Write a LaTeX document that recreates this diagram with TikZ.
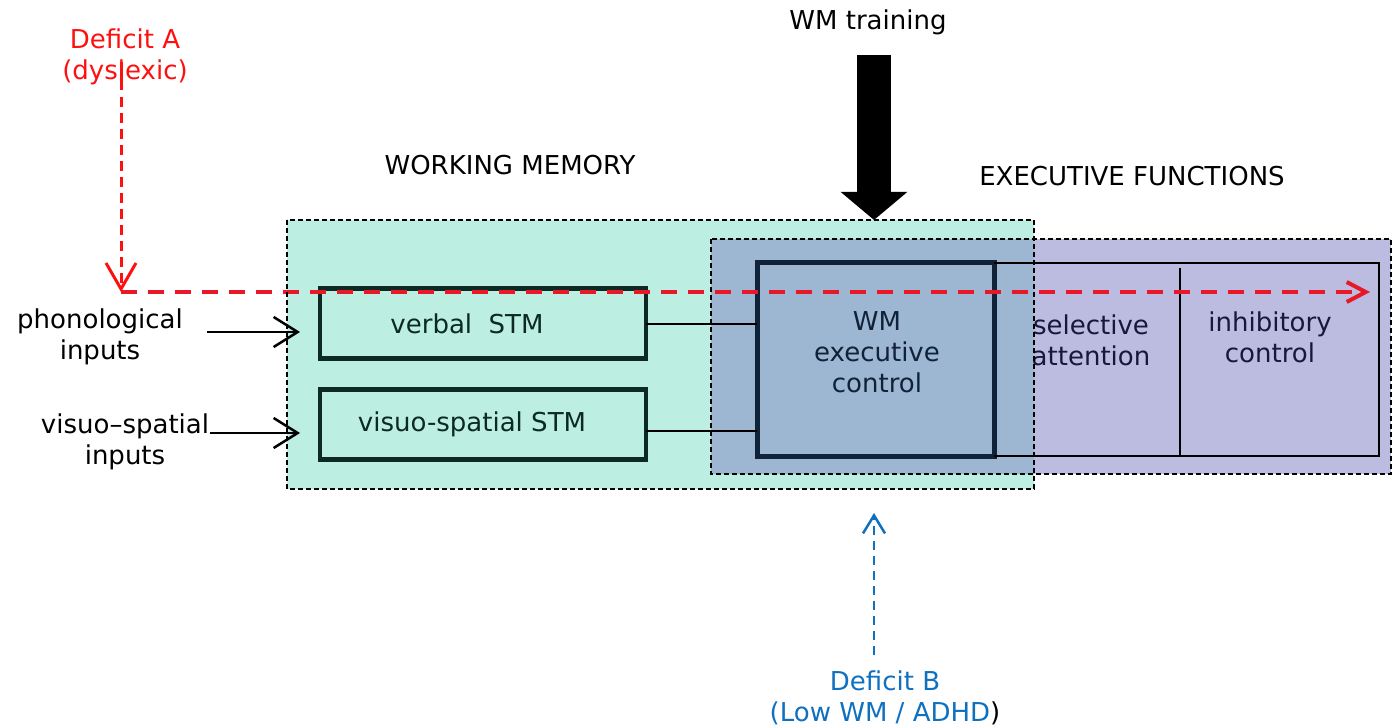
\documentclass[tikz,border=0pt]{standalone}
\usepackage{fontspec}
\setmainfont{DejaVu Sans}
\usetikzlibrary{arrows.meta,calc}
\definecolor{defA}{HTML}{FF1010}
\definecolor{defAdeep}{HTML}{E81828}
\definecolor{defB}{HTML}{1070C0}
\definecolor{wmfill}{HTML}{BDEEE2}
\definecolor{effill}{HTML}{BCBCE0}
\definecolor{bothfill}{HTML}{9DB6D2}
\definecolor{stmink}{HTML}{0C2A22}
\definecolor{execink}{HTML}{102238}
\definecolor{efink}{HTML}{181838}

\begin{document}
\begin{tikzpicture}[x=1pt,y=-1pt,
  every node/.style={font=\fontsize{26}{31}\selectfont, inner sep=0pt, align=center},
  stmbox/.style={draw=stmink, text=stmink, line width=4.5pt, minimum width=326pt, minimum height=70pt},
  execbox/.style={draw=execink, line width=5pt, outer sep=0pt, minimum width=237pt, minimum height=193pt},
  region/.style={draw, line width=1.5pt, dash pattern=on 5pt off 3pt},
  link/.style={line width=2pt},
  inarrow/.style={line width=2.5pt, -{Straight Barb[length=24pt,width=30pt]}},
  deficitA/.style={defA, line width=3pt, dash pattern=on 10pt off 6pt},
  deficitAflow/.style={defAdeep, line width=4pt, dash pattern=on 16pt off 11pt,
    -{Straight Barb[length=19pt,width=20pt]}},
  deficitB/.style={defB, line width=2.5pt, dash pattern=on 9pt off 6pt,
    -{Straight Barb[length=18pt,width=22pt]}},
]
\useasboundingbox (0,0) rectangle (1393,727);

% shaded regions
\coordinate (wmNW) at (287,220);
\coordinate (wmSE) at (1034,489);
\coordinate (efNW) at (711,239);
\coordinate (efSE) at (1391,474);
\fill[wmfill] (wmNW) rectangle (wmSE);
\fill[effill] (efNW) rectangle (efSE);
\fill[bothfill] (efNW) rectangle (wmSE |- efSE);

% headings
\node (train) at (868,22) {WM training};
\node (wmtitle) at (510,165) {WORKING MEMORY};
\node (eftitle) at (1132,176) {EXECUTIVE FUNCTIONS};

% training arrow
\coordinate (trTop) at (874,55);
\coordinate (trTip) at (874,220);
\draw[line width=34pt, -{Triangle[length=28pt,width=65pt]}] (trTop) -- (trTip);

% inputs
\node (phon) at (100,337) {phonological\\inputs};
\node (visin) at (125,442) {visuo–spatial\\inputs};

% short-term stores
\node[stmbox] (verbal) at (483,323.5) {verbal~~STM\hspace*{32pt}};
\node[stmbox] (visuo) at (483,424.5) {visuo-spatial STM\hspace*{22pt}};

% executive control
\node[execbox] (exec) at (875.5,359.5) {};
\node[text=execink] (exectxt) at (877,352) {WM\\executive\\control};

% executive functions frame
\coordinate (efRight) at (1379,0);
\coordinate (efTR) at (exec.north east -| efRight);
\coordinate (efBR) at (exec.south east -| efRight);
\draw[line width=2.5pt] (exec.north east) -- (efTR) -- (efBR) -- (exec.south east);
\coordinate (divTop) at (1180,268);
\draw[line width=2.5pt] (divTop) -- (divTop |- efBR);
\node[text=efink] (selatt) at (1091,340) {selective\\attention};
\node[text=efink] (inhib) at (1270,337) {inhibitory\\control};

% links between stores and executive control
\coordinate (vlink) at (646,324);
\coordinate (slink) at (646,431);
\draw[link] (vlink) -- (vlink -| exec.west);
\draw[link] (slink) -- (slink -| exec.west);

% input arrows
\coordinate (phonFrom) at (207,332);
\coordinate (phonTo) at (300,332);
\coordinate (visFrom) at (210,433);
\coordinate (visTo) at (300,433);
\draw[inarrow] (phonFrom) -- (phonTo);
\draw[inarrow] (visFrom) -- (visTo);

% deficit A
\node[text=defA] (defa) at (125,57) {Deficit A\\(dyslexic)};
\coordinate (aTop) at (121,62);
\coordinate (aMid) at (121,90);
\coordinate (aCorner) at (121,292);
\coordinate (aEnd) at (1370,292);
\draw[defA, line width=3pt] (aTop) -- (aMid);
\draw[deficitA, -{Straight Barb[length=26pt,width=30pt]}] ($(aMid)+(0,7)$) -- (aCorner);
\draw[deficitAflow] (aCorner) -- (aEnd);

% deficit B
\node (defb) at (885,698) {{\color{defB}Deficit B}\\{\color{defB}(Low WM / ADHD})};
\coordinate (bFrom) at (874,655);
\coordinate (bTo) at (874,513);
\draw[deficitB] (bFrom) -- (bTo);

% region outlines
\draw[region] (wmNW) rectangle (wmSE);
\draw[region] (efNW) rectangle (efSE);
\end{tikzpicture}
\end{document}
